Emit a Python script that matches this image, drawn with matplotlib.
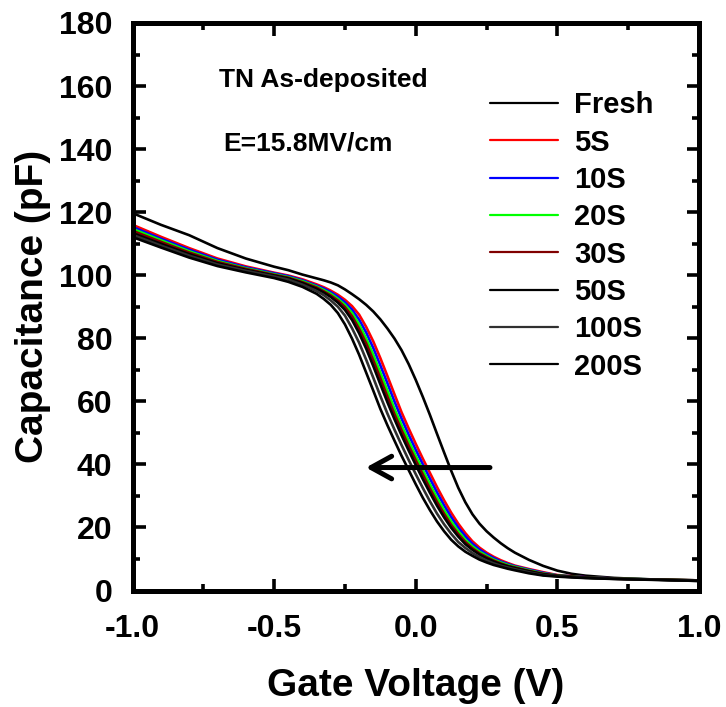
import matplotlib
matplotlib.use("Agg")
import matplotlib.pyplot as plt
from matplotlib.ticker import MultipleLocator, FormatStrFormatter

plt.rcParams["font.family"] = ["Liberation Sans", "DejaVu Sans"]
plt.rcParams["font.weight"] = "bold"
plt.rcParams["axes.unicode_minus"] = False

# Gate voltage sweep (V)
voltage = [-1.0, -0.9, -0.8, -0.7, -0.6, -0.5, -0.45, -0.4,
           -0.35, -0.325, -0.3, -0.275, -0.25, -0.225, -0.2, -0.175,
           -0.15, -0.125, -0.1, -0.075, -0.05, -0.025, 0.0, 0.025,
           0.05, 0.075, 0.1, 0.125, 0.15, 0.175, 0.2, 0.225,
           0.25, 0.275, 0.3, 0.325, 0.35,
           0.4, 0.45, 0.5, 0.55, 0.6, 0.7, 0.8, 0.9, 1.0]

# Capacitance (pF) after each stress time
fresh = [119.7, 116.0, 112.7, 108.6, 105.3, 102.7, 101.6, 100.2,
         99.0, 98.4, 97.7, 96.8, 95.5, 94.0, 92.4, 90.6,
         88.5, 86.0, 83.1, 79.9, 76.2, 71.8, 66.8, 61.4,
         55.7, 49.7, 43.8, 38.0, 32.6, 28.0, 24.2, 21.2,
         18.8, 16.8, 15.0, 13.4, 12.0,
         9.7, 7.8, 6.3, 5.3, 4.7, 4.0, 3.6, 3.3, 3.0]
s5 = [116.0, 112.2, 108.6, 105.3, 102.8, 100.8, 99.9, 98.7,
      97.1, 96.2, 95.1, 93.8, 92.2, 90.2, 87.5, 83.6,
      79.0, 73.7, 68.0, 62.2, 56.5, 51.4, 46.5, 41.8,
      37.3, 32.8, 28.6, 24.7, 21.2, 18.2, 15.6, 13.6,
      12.0, 10.7, 9.6, 8.7, 7.9,
      6.8, 5.8, 4.9, 4.55, 4.2, 3.8, 3.6, 3.4, 3.2]
s10 = [115.3, 111.6, 108.1, 104.9, 102.5, 100.6, 99.7, 98.4,
       96.7, 95.8, 94.6, 93.2, 91.4, 89.1, 85.9, 81.8,
       76.9, 71.4, 65.7, 59.9, 54.5, 49.4, 44.6, 40.0,
       35.5, 31.1, 27.0, 23.3, 20.0, 17.2, 14.8, 13.0,
       11.5, 10.3, 9.2, 8.4, 7.7,
       6.6, 5.6, 4.8, 4.5, 4.2, 3.8, 3.6, 3.4, 3.2]
s20 = [114.7, 111.1, 107.6, 104.5, 102.2, 100.3, 99.4, 98.1,
       96.4, 95.3, 94.1, 92.5, 90.6, 88.0, 84.4, 79.9,
       74.8, 69.1, 63.4, 57.6, 52.4, 47.5, 42.7, 38.2,
       33.7, 29.4, 25.5, 21.9, 18.8, 16.1, 14.0, 12.3,
       11.0, 9.8, 8.9, 8.1, 7.5,
       6.4, 5.4, 4.75, 4.45, 4.1, 3.8, 3.6, 3.4, 3.2]
s30 = [114.1, 110.6, 107.2, 104.2, 102.0, 100.1, 99.2, 97.8,
       96.1, 94.9, 93.6, 92.0, 89.9, 87.0, 83.0, 78.4,
       73.0, 67.3, 61.5, 55.9, 50.8, 45.9, 41.3, 36.8,
       32.3, 28.1, 24.3, 20.8, 17.9, 15.4, 13.4, 11.8,
       10.6, 9.5, 8.6, 7.8, 7.3,
       6.2, 5.3, 4.7, 4.4, 4.1, 3.75, 3.55, 3.4, 3.2]
s50 = [113.4, 110.0, 106.7, 103.8, 101.7, 99.9, 99.0, 97.5,
       95.7, 94.5, 93.1, 91.3, 89.0, 85.8, 81.6, 76.7,
       71.2, 65.4, 59.7, 54.3, 49.2, 44.4, 39.8, 35.3,
       31.0, 26.9, 23.2, 19.9, 17.1, 14.7, 12.9, 11.4,
       10.2, 9.2, 8.35, 7.7, 7.1,
       6.1, 5.15, 4.65, 4.35, 4.1, 3.75, 3.55, 3.35, 3.15]
s100 = [112.8, 109.4, 106.2, 103.4, 101.4, 99.6, 98.6, 97.0,
        95.0, 93.7, 92.0, 90.0, 87.2, 83.2, 78.6, 73.2,
        67.5, 61.7, 56.1, 51.0, 46.1, 41.4, 36.9, 32.5,
        28.3, 24.4, 21.0, 18.0, 15.4, 13.5, 11.9, 10.6,
        9.5, 8.6, 7.85, 7.3, 6.75,
        5.75, 4.9, 4.55, 4.25, 4.0, 3.7, 3.5, 3.3, 3.1]
s200 = [112.1, 108.8, 105.6, 102.9, 100.9, 99.1, 97.9, 96.3,
        94.1, 92.5, 90.6, 88.0, 84.4, 79.9, 74.8, 69.1,
        63.4, 57.6, 52.4, 47.5, 42.7, 38.2, 33.7, 29.4,
        25.5, 21.9, 18.8, 16.1, 14.0, 12.3, 11.0, 9.8,
        8.9, 8.1, 7.5, 6.9, 6.4,
        5.45, 4.75, 4.4, 4.15, 3.95, 3.65, 3.45, 3.25, 3.05]

series = [fresh, s5, s10, s20, s30, s50, s100, s200]
labels = ["Fresh", "5S", "10S", "20S", "30S", "50S", "100S", "200S"]
colors = ["#000000", "#FF0000", "#0000FF", "#00FF00", "#800000",
          "#000000", "#303030", "#000000"]

x_ticks = [-1.0, -0.5, 0.0, 0.5, 1.0]
y_ticks = [0, 20, 40, 60, 80, 100, 120, 140, 160, 180]

W, H = 726, 707
fig = plt.figure(figsize=(W / 100, H / 100), dpi=100)
left, right, top, bottom = 132.5, 699.0, 23.0, 590.5
ax = fig.add_axes([left / W, 1 - bottom / H, (right - left) / W, (bottom - top) / H])

for ys, lab, col in zip(series, labels, colors):
    ax.plot(voltage, ys, color=col, lw=1.9, label=lab,
            solid_joinstyle="round", solid_capstyle="round")

ax.set_xlim(-1.0, 1.0)
ax.set_ylim(0, 180)
ax.set_xticks(x_ticks)
ax.set_yticks(y_ticks)
ax.xaxis.set_major_formatter(FormatStrFormatter("%.1f"))
ax.xaxis.set_minor_locator(MultipleLocator(0.25))
ax.yaxis.set_minor_locator(MultipleLocator(10))

for sp in ax.spines.values():
    sp.set_linewidth(3.6)
ax.tick_params(which="both", direction="in", top=True, right=True,
               labelsize=23, width=2.6)
ax.tick_params(which="major", length=9)
ax.tick_params(which="minor", length=5)
ax.tick_params(axis="x", which="major", pad=17)
ax.tick_params(axis="y", which="major", pad=14.5)

ax.set_xlabel("Gate Voltage (V)", fontsize=28, fontweight="bold", labelpad=17)
ax.set_ylabel("Capacitance (pF)", fontsize=28, fontweight="bold", labelpad=6)

ax.text(-0.693, 159.7, "TN As-deposited", fontsize=19, fontweight="bold",
        ha="left", va="baseline")
ax.text(-0.679, 139.7, "E=15.8MV/cm", fontsize=19, fontweight="bold",
        ha="left", va="baseline")

# shift of the C-V curves with stress time
ax.annotate("", xy=(-0.176, 39), xytext=(0.262, 39),
            arrowprops=dict(arrowstyle="->,head_length=0.4,head_width=0.22",
                            lw=3.6, color="black", mutation_scale=37,
                            shrinkA=0, shrinkB=0, capstyle="round",
                            joinstyle="round"))

leg = ax.legend(loc="center left", bbox_to_anchor=(490 / W, 1 - 236 / H),
                bbox_transform=fig.transFigure, frameon=False,
                fontsize=21, handlelength=2.33, handletextpad=0.55,
                labelspacing=0.32, borderpad=0, borderaxespad=0)
for line in leg.get_lines():
    line.set_linewidth(1.6)

fig.savefig("out.png", dpi=100)
